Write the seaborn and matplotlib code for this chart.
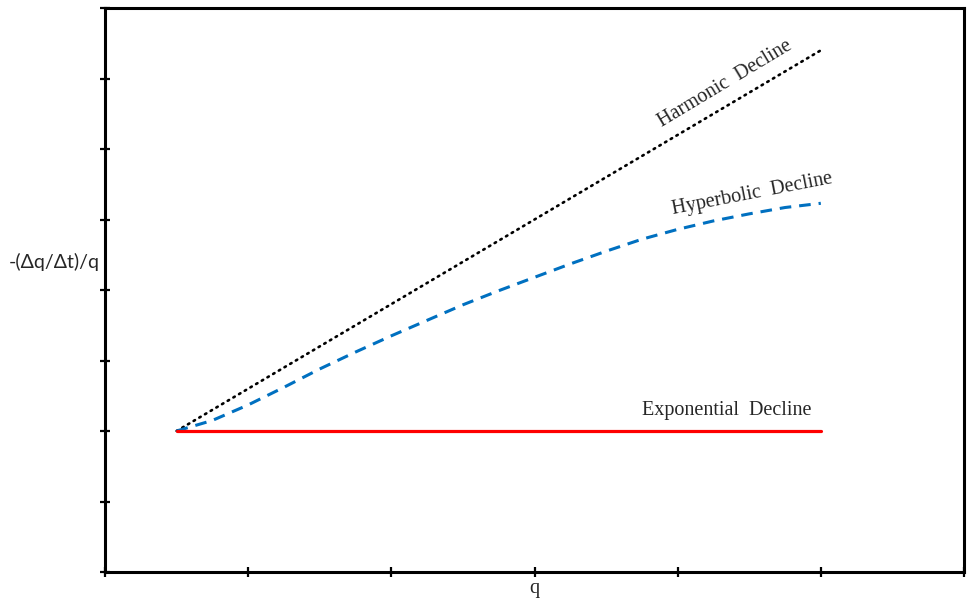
import matplotlib
matplotlib.use("Agg")
import matplotlib.pyplot as plt
import seaborn as sns
import pandas as pd

# Rate-decline diagnostic: -(dq/dt)/q versus q for the three Arps decline types
q_exp = [0.5, 5.0]
d_exp = [2.0, 2.0]

q_harm = [0.5, 5.0]
d_harm = [2.0, 7.4]

q_hyp = [0.5, 0.75, 1.0, 1.25, 1.5, 1.75, 2.0, 2.25, 2.5, 2.75, 3.0,
         3.25, 3.5, 3.75, 4.0, 4.25, 4.5, 4.75, 5.0]
d_hyp = [2.0, 2.15, 2.37, 2.62, 2.88, 3.12, 3.35, 3.57, 3.79, 3.99, 4.18,
         4.37, 4.55, 4.72, 4.86, 4.98, 5.08, 5.17, 5.23]

x_ticks = [0, 1, 2, 3, 4, 5, 6]
y_ticks = [0, 1, 2, 3, 4, 5, 6, 7, 8]

sns.set_style("white")
plt.rcParams["font.family"] = ["Liberation Serif", "DejaVu Serif"]

fig = plt.figure(figsize=(9.67, 6.04), dpi=100)
ax = fig.add_axes([105 / 967, 1 - 572 / 604, (964 - 105) / 967, (572 - 8) / 604])

df_exp = pd.DataFrame({"q": q_exp, "d": d_exp})
df_harm = pd.DataFrame({"q": q_harm, "d": d_harm})
df_hyp = pd.DataFrame({"q": q_hyp, "d": d_hyp})

sns.lineplot(data=df_harm, x="q", y="d", ax=ax, color="black", lw=1.9)
ax.lines[-1].set_linestyle((0, (0.6, 1.9)))
ax.lines[-1].set_dash_capstyle("round")

sns.lineplot(data=df_hyp, x="q", y="d", ax=ax, color="#0070C0", lw=2.2)
ax.lines[-1].set_linestyle((0, (3.8, 2.6)))

sns.lineplot(data=df_exp, x="q", y="d", ax=ax, color="#FF0000", lw=2.3)

ax.set_xlim(0, 6)
ax.set_ylim(0, 8)
ax.set_xticks(x_ticks)
ax.set_yticks(y_ticks)
ax.set_xticklabels([])
ax.set_yticklabels([])
ax.tick_params(axis="both", direction="inout", length=7, width=1.6,
               color="black", left=True, bottom=True)

for side in ["left", "right", "top", "bottom"]:
    ax.spines[side].set_visible(True)
    ax.spines[side].set_color("black")
    ax.spines[side].set_linewidth(2.2)

fs = 14.5

ax.set_xlabel("q", fontsize=fs)
ax.xaxis.set_label_coords(0.5, -0.012, transform=ax.transAxes)
ax.xaxis.label.set_va("top")

ax.set_ylabel("-(\u0394q/\u0394t)/q", fontsize=14, rotation=0,
              family=["Lato", "DejaVu Sans"])
ax.yaxis.set_label_coords(-0.059, 0.55)
ax.yaxis.label.set_ha("center")
ax.yaxis.label.set_va("center")

ax.text(4.33, 6.92, "Harmonic  Decline", fontsize=fs, rotation=31,
        ha="center", va="center")
ax.text(4.52, 5.36, "Hyperbolic  Decline", fontsize=fs, rotation=11,
        ha="center", va="center")
ax.text(4.34, 2.29, "Exponential  Decline", fontsize=fs,
        ha="center", va="center")

ax.set_facecolor("white")
fig.patch.set_facecolor("white")
fig.savefig("out.png", dpi=100)
